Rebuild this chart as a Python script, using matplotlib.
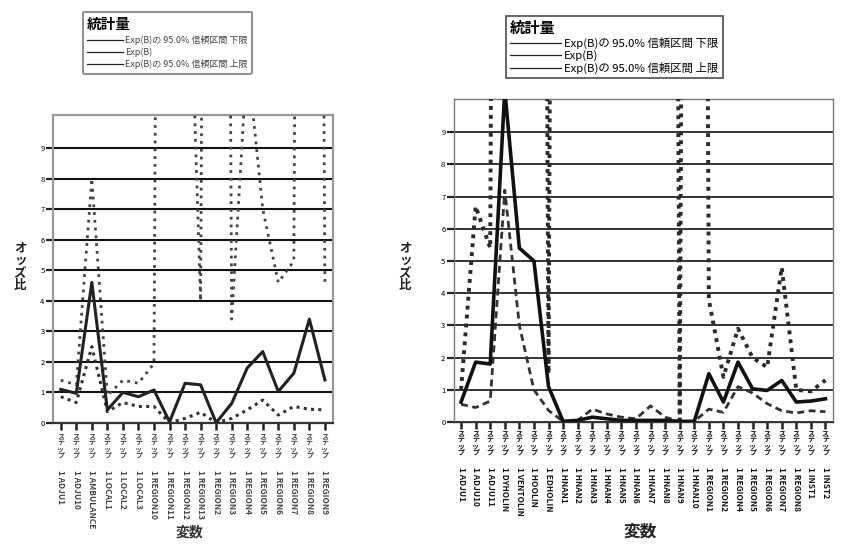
import matplotlib
matplotlib.use("Agg")
from matplotlib import pyplot
from matplotlib import transforms
from matplotlib.lines import Line2D

pyplot.rcParams["font.family"] = ["Noto Sans CJK JP", "DejaVu Sans"]

# ---- data ----
left_vars = ["ADJU1", "ADJU10", "AMBULANCE", "LOCAL1", "LOCAL2", "LOCAL3",
             "REGION10", "REGION11", "REGION12", "REGION13", "REGION2", "REGION3",
             "REGION4", "REGION5", "REGION6", "REGION7", "REGION8", "REGION9"]
left_lower = [0.86, 0.67, 2.5, 0.37, 0.67, 0.54, 0.54, 0.01, 0.15, 0.35,
              0.01, 0.15, 0.43, 0.75, 0.26, 0.54, 0.45, 0.43]
left_exp = [1.1, 0.97, 4.6, 0.43, 1.0, 0.86, 1.08, 0.04, 1.3, 1.25,
            0.01, 0.64, 1.8, 2.34, 1.03, 1.63, 3.4, 1.41]
left_upper = [1.4, 1.25, 8.0, 0.9, 1.4, 1.3, 1.95, 100, 20, 4.0,
              100, 3.4, 12, 7.0, 4.6, 5.3, 100, 4.6]

right_vars = ["ADJU1", "ADJU10", "ADJU11", "DYHOLIN", "VENTOLIN", "HOOLIN", "EDHOLIN",
              "HNAN1", "HNAN2", "HNAN3", "HNAN4", "HNAN5", "HNAN6", "HNAN7", "HNAN8",
              "HNAN9", "HNAN10", "REGION1", "REGION2", "REGION4", "REGION5", "REGION6",
              "REGION7", "REGION8", "INST1", "INST2"]
right_lower = [0.55, 0.45, 0.65, 7.2, 3.0, 1.0, 0.36, 0.02, 0.05, 0.4,
               0.25, 0.15, 0.1, 0.5, 0.15, 0.02, 0.02, 0.4, 0.3, 1.1,
               0.9, 0.57, 0.35, 0.28, 0.35, 0.32]
right_exp = [0.62, 1.86, 1.8, 10.3, 5.4, 5.0, 1.1, 0.02, 0.05, 0.15,
             0.1, 0.05, 0.05, 0.05, 0.05, 0.02, 0.02, 1.5, 0.62, 1.86,
             1.03, 0.98, 1.29, 0.62, 0.65, 0.72]
right_upper = [1.0, 6.7, 5.4, 100, 100, 100, 1.5, 100, 100, 100,
               100, 100, 100, 100, 100, 0.05, 100, 3.8, 1.4, 2.9,
               2.0, 1.7, 4.8, 1.0, 0.95, 1.3]

legend_title = "統計量"
legend_labels = ["Exp(B)の 95.0% 信頼区間 下限", "Exp(B)", "Exp(B)の 95.0% 信頼区間 上限"]
step_prefix = "ステップ"
y_label = "オッズ比"
x_label = "変数"

DPI = 100
fig = pyplot.figure(figsize=(8.45, 5.47), dpi=DPI)
ax_l = fig.add_axes([0.0627, 0.2267, 0.331, 0.563])
ax_r = fig.add_axes([0.537, 0.2285, 0.4485, 0.5905])


def step_labels(ax, names, kana_px, text_px, color):
    base = transforms.blended_transform_factory(ax.transData, ax.transAxes)
    kana_tr = base + transforms.ScaledTranslation(0, -kana_px / DPI, fig.dpi_scale_trans)
    text_tr = base + transforms.ScaledTranslation(0, -text_px / DPI, fig.dpi_scale_trans)
    for i, name in enumerate(names):
        ax.text(i, 0, "\n".join(step_prefix), transform=kana_tr, ha="center", va="top",
                fontsize=5, linespacing=0.85, color=color, fontweight="bold")
        ax.text(i, 0, "1 " + name, transform=text_tr, rotation=-90, ha="center", va="top",
                fontsize=6, color=color, fontweight="bold")


def panel(ax, names, lower, exp, upper, ymax, st):
    x = range(len(names))
    ax.plot(x, lower, color=st["lo_c"], lw=st["lo_w"], ls=st["lo_ls"], zorder=3)
    ax.plot(x, upper, color=st["up_c"], lw=st["up_w"], ls=st["up_ls"], zorder=3)
    ax.plot(x, exp, color=st["ex_c"], lw=st["ex_w"], zorder=4)
    ax.set_xlim(-0.5, len(names) - 0.5)
    ax.set_ylim(0, ymax)
    ax.set_xticks(list(x))
    ax.set_xticklabels([])
    ax.set_yticks(range(10))
    ax.tick_params(axis="y", length=5, width=1.6, labelsize=5.5, pad=1, color="#222")
    ax.tick_params(axis="x", length=5, width=1.8, color="#222")
    ax.yaxis.grid(True, color="#111", lw=st["grid_w"], zorder=1)
    for s in ax.spines.values():
        s.set_color(st["spine"])
        s.set_linewidth(st["spine_w"])
    ax.spines["bottom"].set_color("#333")


left_style = dict(lo_c="#333333", lo_w=2.2, lo_ls=(0, (1, 1.4)),
                  up_c="#444444", up_w=2.0, up_ls=(0, (1, 1.8)),
                  ex_c="#222222", ex_w=2.2, grid_w=1.5, spine="#999999", spine_w=1.6)
right_style = dict(lo_c="#333333", lo_w=2.0, lo_ls=(0, (2.5, 1.6)),
                   up_c="#2a2a2a", up_w=2.8, up_ls=(0, (1, 1.3)),
                   ex_c="#111111", ex_w=2.6, grid_w=1.2, spine="#777777", spine_w=1.0)

panel(ax_l, left_vars, left_lower, left_exp, left_upper, 10.08, left_style)
panel(ax_r, right_vars, right_lower, right_exp, right_upper, 10.03, right_style)

step_labels(ax_l, left_vars, 10, 47, "#444444")
step_labels(ax_r, right_vars, 8, 45, "#111111")

# stacked vertical y labels and x labels
fig.text(20 / 845, 1 - 267 / 547, "\n".join(y_label), ha="center", va="center",
         fontsize=9, fontweight="bold", linespacing=0.95, color="#222")
fig.text(405 / 845, 1 - 267 / 547, "\n".join(y_label), ha="center", va="center",
         fontsize=9, fontweight="bold", linespacing=0.95, color="#222")
fig.text(190 / 845, 1 - 533 / 547, x_label, ha="center", va="center",
         fontsize=10, fontweight="bold", color="#333")
fig.text(640 / 845, 1 - 532 / 547, x_label, ha="center", va="center",
         fontsize=12, fontweight="bold", color="#222")

# legends
handles = [Line2D([], [], color="#222", lw=0.9) for _ in legend_labels]
leg_l = fig.legend(handles, legend_labels, title=legend_title, loc="upper left",
                   bbox_to_anchor=(78 / 845, 1 - 7 / 547), fontsize=6.5, handlelength=4,
                   handletextpad=0.2, labelspacing=0.3, alignment="left",
                   title_fontproperties={"size": 10.5, "weight": "bold"},
                   fancybox=True, frameon=True, borderpad=0.5)
leg_l.get_frame().set_edgecolor("#777777")
leg_l.get_frame().set_linewidth(1.5)
for t in leg_l.get_texts():
    t.set_color("#444444")

leg_r = fig.legend(handles, legend_labels, title=legend_title, loc="upper left",
                   bbox_to_anchor=(500 / 845, 1 - 10 / 547), fontsize=8.2, handlelength=4.5,
                   handletextpad=0.3, labelspacing=0.1, alignment="left",
                   title_fontproperties={"size": 11, "weight": "bold"},
                   fancybox=False, frameon=True, borderpad=0.35)
leg_r.get_frame().set_edgecolor("#333333")
leg_r.get_frame().set_linewidth(1.3)

fig.savefig("out.png", dpi=DPI)
